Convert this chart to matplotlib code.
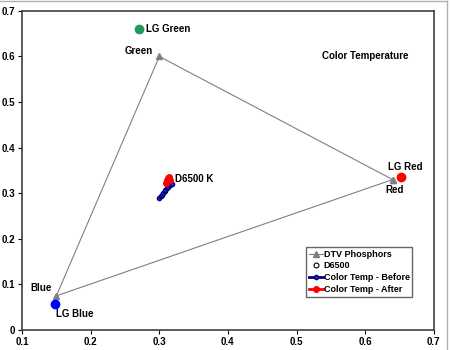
import matplotlib
matplotlib.use("Agg")
import matplotlib.pyplot as plt
from matplotlib.lines import Line2D

plt.rcParams['font.family'] = ['Liberation Sans', 'DejaVu Sans']
plt.rcParams['font.weight'] = 'bold'
plt.rcParams['font.size'] = 7

# DTV phosphor primaries (red, green, blue, back to red)
phosphor_x = [0.64, 0.30, 0.15, 0.64]
phosphor_y = [0.33, 0.60, 0.075, 0.33]

# measured primaries of the set
lg_names = ['LG Red', 'LG Green', 'LG Blue']
lg_x = [0.652, 0.270, 0.148]
lg_y = [0.335, 0.660, 0.057]
lg_colors = ['#ff0000', '#1f9a5a', '#0000ff']

d65_x = [0.3127]
d65_y = [0.329]

# grey-scale tracking, before and after calibration
before_x = [0.300, 0.302, 0.304, 0.306, 0.308, 0.309, 0.311, 0.313, 0.315, 0.318]
before_y = [0.289, 0.293, 0.297, 0.301, 0.305, 0.308, 0.311, 0.314, 0.317, 0.320]
after_x = [0.310, 0.311, 0.312, 0.314, 0.315, 0.313]
after_y = [0.323, 0.328, 0.333, 0.335, 0.330, 0.326]

fig = plt.figure(figsize=(4.5, 3.5), dpi=100)
ax = fig.add_axes([0.049, 0.057, 0.915, 0.912])

ax.plot(phosphor_x, phosphor_y, color='#808080', lw=0.8, marker='^',
        markersize=4, markerfacecolor='#808080', markeredgecolor='#808080',
        label='DTV Phosphors')
ax.plot(d65_x, d65_y, ls='none', marker='o', markersize=3.5,
        markerfacecolor='white', markeredgecolor='black', mew=0.8, label='D6500')
ax.plot(before_x, before_y, color='#000080', lw=2, marker='o', markersize=3,
        markerfacecolor='#2030c0', markeredgecolor='#000080',
        label='Color Temp - Before')
ax.plot(after_x, after_y, color='#ff0000', lw=2, marker='o', markersize=4,
        markerfacecolor='#ff0000', markeredgecolor='#ff0000',
        label='Color Temp - After')

for name, x, y, c in zip(lg_names, lg_x, lg_y, lg_colors):
    ax.plot(x, y, ls='none', marker='o', markersize=6, color=c, zorder=4)

ax.text(0.281, 0.660, 'LG Green', ha='left', va='center')
ax.text(0.659, 0.357, 'LG Red', ha='center', va='center')
ax.text(0.149, 0.047, 'LG Blue', ha='left', va='top')
ax.text(0.290, 0.601, 'Green', ha='right', va='bottom')
ax.text(0.643, 0.319, 'Red', ha='center', va='top')
ax.text(0.143, 0.081, 'Blue', ha='right', va='bottom')
ax.text(0.323, 0.331, 'D6500 K', ha='left', va='center')
ax.text(0.537, 0.600, 'Color Temperature', ha='left', va='center')

ax.set_xlim(0.1, 0.7)
ax.set_ylim(0, 0.7)
ax.set_xticks([0.1, 0.2, 0.3, 0.4, 0.5, 0.6, 0.7])
ax.set_yticks([0, 0.1, 0.2, 0.3, 0.4, 0.5, 0.6, 0.7])
ax.set_xticklabels(['0.1', '0.2', '0.3', '0.4', '0.5', '0.6', '0.7'])
ax.set_yticklabels(['0', '0.1', '0.2', '0.3', '0.4', '0.5', '0.6', '0.7'])
ax.tick_params(direction='out', length=3, width=0.8, pad=2, labelsize=7)
for s in ax.spines.values():
    s.set_color('#404040')
    s.set_linewidth(1.2)

leg = ax.legend(loc='lower right', bbox_to_anchor=(0.948, 0.105), fontsize=6.5,
                frameon=True, fancybox=False, handlelength=1.6,
                handletextpad=0.05, borderpad=0.3, labelspacing=0.3,
                borderaxespad=0)
leg.get_frame().set_edgecolor('#404040')
leg.get_frame().set_linewidth(1)

# thin frame lines along the top and right edge of the figure
fig.add_artist(Line2D([0, 0.993], [0.996, 0.996], color='#b0b0b0', lw=1,
                      transform=fig.transFigure))
fig.add_artist(Line2D([0.993, 0.993], [0, 0.996], color='#b0b0b0', lw=1,
                      transform=fig.transFigure))

fig.savefig('out.png', dpi=100)
